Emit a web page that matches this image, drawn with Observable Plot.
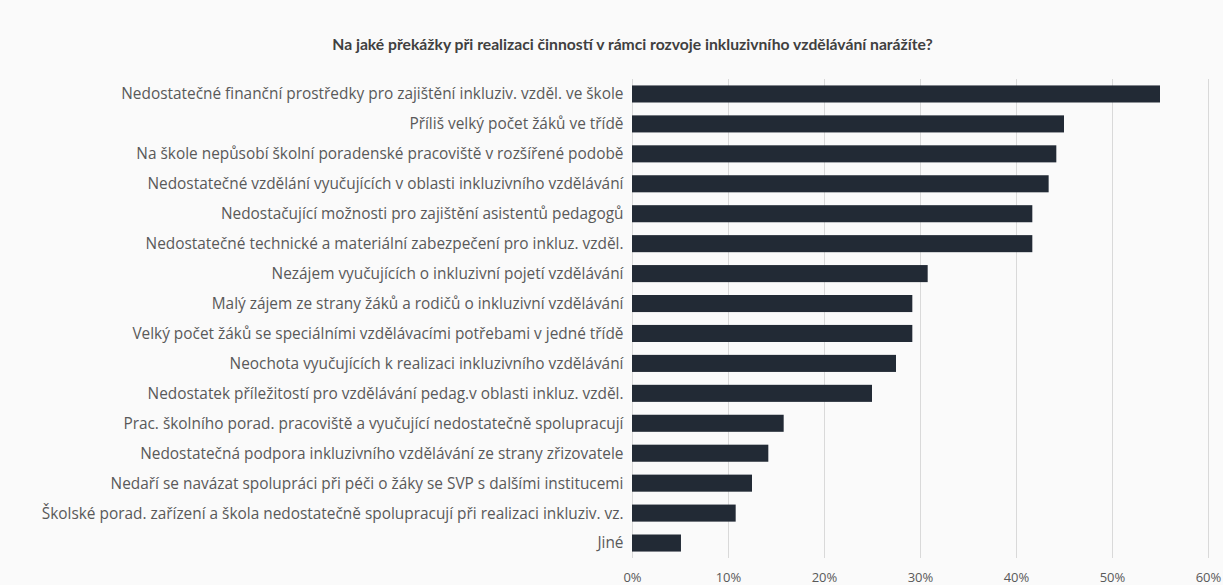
<!DOCTYPE html>
<html>
<head>
<meta charset="utf-8">
<script src="https://cdn.jsdelivr.net/npm/d3@7"></script>
<script src="https://cdn.jsdelivr.net/npm/@observablehq/plot@0.6"></script>
<style>
  html, body { margin: 0; padding: 0; background: #fafafa; overflow: hidden; }
  #title {
    width: 1223px; height: 37px; padding-top: 33px;
    font-family: Lato, "Open Sans", sans-serif; font-weight: 700; font-size: 15.7px;
    line-height: 22px; color: #404040; text-align: center; box-sizing: content-box;
    text-indent: 42px; white-space: nowrap;
  }
  #chart svg { display: block; }
</style>
</head>
<body>
<div id="title">Na jaké překážky při realizaci činností v rámci rozvoje inkluzivního vzdělávání narážíte?</div>
<div id="chart"></div>
<script>
const categories = [
  "Nedostatečné finanční prostředky pro zajištění inkluziv. vzděl. ve škole",
  "Příliš velký počet žáků ve třídě",
  "Na škole nepůsobí školní poradenské pracoviště v rozšířené podobě",
  "Nedostatečné vzdělání vyučujících v oblasti inkluzivního vzdělávání",
  "Nedostačující možnosti pro zajištění asistentů pedagogů",
  "Nedostatečné technické a materiální zabezpečení pro inkluz. vzděl.",
  "Nezájem vyučujících o inkluzivní pojetí vzdělávání",
  "Malý zájem ze strany žáků a rodičů o inkluzivní vzdělávání",
  "Velký počet žáků se speciálními vzdělávacími potřebami v jedné třídě",
  "Neochota vyučujících k realizaci inkluzivního vzdělávání",
  "Nedostatek příležitostí pro vzdělávání pedag.v oblasti inkluz. vzděl.",
  "Prac. školního porad. pracoviště a vyučující nedostatečně spolupracují",
  "Nedostatečná podpora inkluzivního vzdělávání ze strany zřizovatele",
  "Nedaří se navázat spolupráci při péči o žáky se SVP s dalšími institucemi",
  "Školské porad. zařízení a škola nedostatečně spolupracují při realizaci inkluziv. vz.",
  "Jiné"
];
const values = [0.550, 0.450, 0.442, 0.434, 0.417, 0.417, 0.308, 0.292, 0.292, 0.275, 0.250, 0.158, 0.142, 0.125, 0.108, 0.051];
const xTicks = [0, 0.1, 0.2, 0.3, 0.4, 0.5, 0.6];

const data = categories.map((c, i) => ({category: c, value: values[i]}));

const chart = Plot.plot({
  width: 1223,
  height: 515,
  marginTop: 9,
  marginBottom: 27,
  marginLeft: 632,
  marginRight: 15,
  style: {background: "#fafafa", fontFamily: "'Open Sans', Lato, sans-serif"},
  x: {domain: [0, 0.6], ticks: xTicks, tickFormat: d3.format(".0%"), label: null},
  y: {domain: categories, paddingInner: 0.43, paddingOuter: 0.215, align: 0.5, round: false, label: null},
  marks: [
    Plot.gridX(xTicks, {stroke: "#d9d9d9", strokeOpacity: 1, strokeWidth: 1}),
    Plot.barX(data, {x: "value", y: "category", fill: "#222a35"}),
    Plot.axisX(xTicks, {tickSize: 0, tickPadding: 14, fontSize: 13, fill: "#595959", label: null, tickFormat: d3.format(".0%")}),
    Plot.axisY({tickSize: 0, tickPadding: 9, fontSize: 15.4, fill: "#595959", label: null, tickFormat: d => d})
  ]
});
document.getElementById("chart").appendChild(chart);
</script>
</body>
</html>
